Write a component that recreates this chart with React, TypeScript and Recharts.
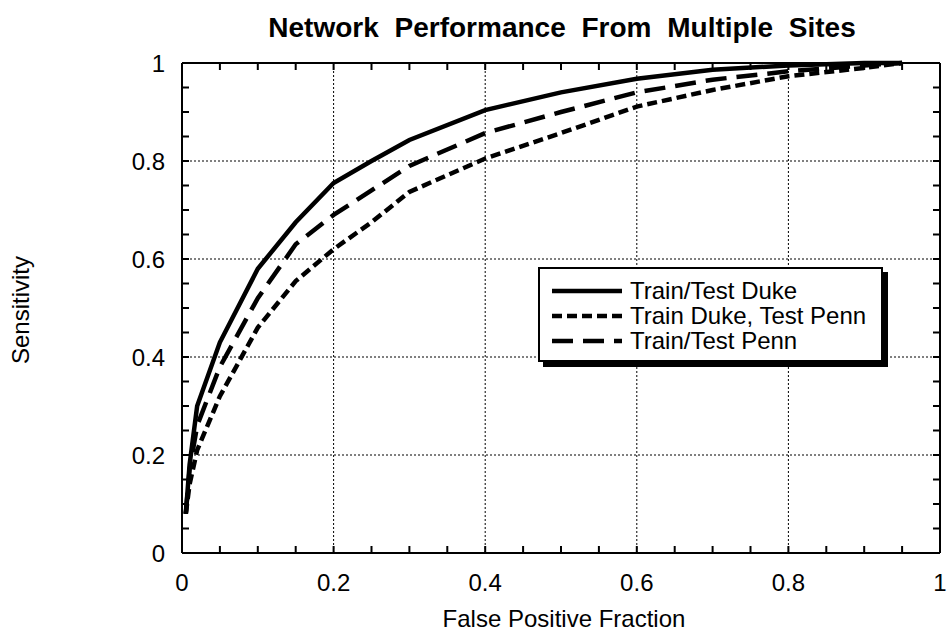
import React from 'react';
import { LineChart, Line, XAxis, YAxis, CartesianGrid, Legend, ReferenceLine } from 'recharts';

// false positive fraction sampled along each ROC curve
const fpf = [0.005, 0.01, 0.02, 0.05, 0.1, 0.15, 0.2, 0.25, 0.3, 0.4, 0.5, 0.6, 0.7, 0.8, 0.9, 0.95];
const trainTestDuke = [0.08, 0.18, 0.3, 0.43, 0.58, 0.675, 0.755, 0.8, 0.843, 0.904, 0.94, 0.968, 0.986, 0.995, 1.0, 1.0];
const trainDukeTestPenn = [0.08, 0.14, 0.21, 0.32, 0.46, 0.555, 0.62, 0.675, 0.737, 0.805, 0.857, 0.911, 0.945, 0.973, 0.99, 1.0];
const trainTestPenn = [0.08, 0.17, 0.26, 0.38, 0.52, 0.63, 0.69, 0.74, 0.79, 0.857, 0.9, 0.94, 0.966, 0.983, 0.995, 1.0];

const majorTicks = [0, 0.2, 0.4, 0.6, 0.8, 1];
const minorTicks = [0, 0.05, 0.1, 0.15, 0.2, 0.25, 0.3, 0.35, 0.4, 0.45, 0.5, 0.55, 0.6, 0.65, 0.7, 0.75, 0.8, 0.85, 0.9, 0.95, 1];

const SERIES = [
  { key: 'duke', name: 'Train/Test Duke', dash: undefined as string | undefined },
  { key: 'dukePenn', name: 'Train Duke, Test Penn', dash: '10 5' },
  { key: 'penn', name: 'Train/Test Penn', dash: '21 10' },
];

const data = fpf.map((x, i) => ({
  x,
  duke: trainTestDuke[i],
  dukePenn: trainDukeTestPenn[i],
  penn: trainTestPenn[i],
}));

const FONT = '"Liberation Sans", Arial, Helvetica, sans-serif';
const W = 948;
const H = 633;
const MARGIN = { top: 63, right: 8, bottom: 20, left: 102 };
const Y_AXIS_W = 80;
const X_AXIS_H = 60;
const PLOT_W = W - MARGIN.left - Y_AXIS_W - MARGIN.right;
const PLOT_H = H - MARGIN.top - X_AXIS_H - MARGIN.bottom;
const TICK = 7;

// only every 0.2 gets a label, the rest are minor ticks
const fmt = (v: number) => {
  const r = Math.round(v * 100) / 100;
  if (Math.abs(r * 5 - Math.round(r * 5)) > 1e-6) return '';
  return String(r);
};

// inward ticks on bottom + top edge, label below
const XTick = (props: any) => {
  const { x, y, payload } = props;
  return (
    <g>
      <path d={`M${x},${y}v-${TICK}M${x},${y - PLOT_H}v${TICK}`} stroke="#000" strokeWidth={2} fill="none" />
      <text x={x} y={y + 38} textAnchor="middle" fontSize={24} fontFamily={FONT} fill="#000">
        {fmt(payload.value)}
      </text>
    </g>
  );
};

// inward ticks on left + right edge, label to the left
const YTick = (props: any) => {
  const { x, y, payload } = props;
  return (
    <g>
      <path d={`M${x},${y}h${TICK}M${x + PLOT_W},${y}h-${TICK}`} stroke="#000" strokeWidth={2} fill="none" />
      <text x={x - 17} y={y + 9} textAnchor="end" fontSize={24} fontFamily={FONT} fill="#000">
        {fmt(payload.value)}
      </text>
    </g>
  );
};

const LegendBox = () => (
  <div
    style={{
      border: '2px solid #000',
      boxShadow: '5px 5px 0 #000',
      background: '#fff',
      width: 345,
      height: 95,
      boxSizing: 'border-box',
      padding: '9px 0 0 12px',
      fontFamily: FONT,
      fontSize: 24,
      color: '#000',
    }}
  >
    {SERIES.map((s) => (
      <div key={s.key} style={{ display: 'flex', alignItems: 'center', height: 25 }}>
        <svg width={70} height={10} style={{ marginRight: 8 }}>
          <line x1={0} y1={5} x2={70} y2={5} stroke="#000" strokeWidth={4.5} strokeDasharray={s.dash} />
        </svg>
        <span style={{ lineHeight: '25px' }}>{s.name}</span>
      </div>
    ))}
  </div>
);

export default function App() {
  return (
    <div style={{ position: 'absolute', left: 0, top: 0, width: W, height: H, background: '#fff', fontFamily: FONT }}>
      <div style={{ position: 'absolute', left: 0, top: 0 }}>
        <LineChart width={W} height={H} data={data} margin={MARGIN}>
          <CartesianGrid
            stroke="#000"
            strokeWidth={1}
            strokeDasharray="2 2"
            verticalValues={majorTicks}
            horizontalValues={majorTicks}
          />
          <XAxis
            dataKey="x"
            type="number"
            domain={[0, 1]}
            ticks={minorTicks}
            interval={0}
            height={X_AXIS_H}
            axisLine={{ stroke: '#000', strokeWidth: 2 }}
            tickLine={false}
            tickSize={0}
            tickMargin={0}
            tick={<XTick />}
          />
          <YAxis
            type="number"
            domain={[0, 1]}
            ticks={minorTicks}
            interval={0}
            width={Y_AXIS_W}
            axisLine={{ stroke: '#000', strokeWidth: 2 }}
            tickLine={false}
            tickSize={0}
            tickMargin={0}
            tick={<YTick />}
          />
          <ReferenceLine y={1} stroke="#000" strokeWidth={2} />
          <ReferenceLine x={1} stroke="#000" strokeWidth={2} />
          <Legend
            layout="horizontal"
            verticalAlign="middle"
            align="center"
            wrapperStyle={{ left: 538, top: 267, width: 'auto' }}
            content={() => <LegendBox />}
          />
          {SERIES.map((s) => (
            <Line
              key={s.key}
              type="linear"
              dataKey={s.key}
              name={s.name}
              stroke="#000"
              strokeWidth={4.5}
              strokeDasharray={s.dash}
              dot={false}
              activeDot={false}
              isAnimationActive={false}
            />
          ))}
        </LineChart>
      </div>
      <svg width={W} height={H} style={{ position: 'absolute', left: 0, top: 0, pointerEvents: 'none' }}>
        <text x={562} y={37} textAnchor="middle" fontSize={28} fontWeight="bold" fontFamily={FONT} wordSpacing={8} fill="#000">
          Network Performance From Multiple Sites
        </text>
        <text x={564} y={627} textAnchor="middle" fontSize={24} fontFamily={FONT} fill="#000">
          False Positive Fraction
        </text>
        <text transform="translate(29,310) rotate(-90)" textAnchor="middle" fontSize={24} fontFamily={FONT} fill="#000">
          Sensitivity
        </text>
      </svg>
    </div>
  );
}
